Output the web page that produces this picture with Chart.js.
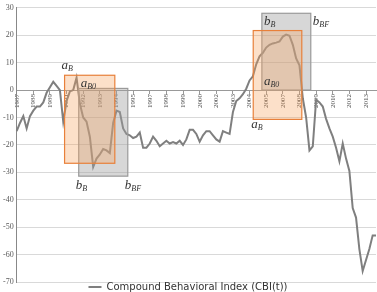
<!DOCTYPE html>
<html>
<head>
<meta charset="utf-8">
<script src="https://cdn.jsdelivr.net/npm/chart.js@4/dist/chart.umd.min.js"></script>
<style>
  body { margin: 0; background: #fff; }
  canvas { display: block; }
</style>
</head>
<body>
<canvas id="chartCBI" width="377" height="292"></canvas>
<script>
// Etiquetas del eje X (una cada 5 puntos)
const tickYears = ['1987', '1988', '1989', '1991', '1992', '1993', '1994', '1995', '1997', '1998', '1999',
    '2000', '2002', '2003', '2004', '2005', '2007', '2008', '2009', '2010', '2012', '2013'];
const TICK_EVERY = 5;

// Serie CBI(t)
const cbi = [
    -15, -12, -9.5, -14, -9.5, -7.5, -6, -6, -4.5, -1,
    1, 3, 1.5, 0, -11.5, -4, -0.5, 0, 4.5, -5,
    -10, -11.5, -17, -28, -25, -23.5, -21.5, -22, -23, -12,
    -7.5, -8, -14, -16, -16.5, -17.5, -17, -15.5, -21, -21,
    -19.5, -17, -18.5, -20.5, -19.5, -18.5, -19.5, -19, -19.5, -18.5,
    -20, -18, -14.5, -14.5, -16, -18.8, -16.5, -15, -15, -16.5,
    -18, -18.8, -15, -15.5, -16, -8, -4, -3, -1.5, 0.5,
    3.5, 5, 9.4, 12.3, 13.6, 15.5, 16.5, 17, 17.3, 17.7,
    19.5, 20.2, 19.8, 16.5, 11.5, 9, -3, -10, -22, -20.5,
    -3.5, -4.5, -6, -10.5, -14, -17, -21, -26, -19.5, -25,
    -29.5, -43, -46.5, -58, -66, -62, -58, -53, -53
];

const yTicks = { min: -70, max: 30, step: 10 };

// Recuadros (en unidades de datos: índice / valor)
const cajasGris = [
    { x0: 18.65, x1: 33.4, y0: -31.4, y1: 0.6 },
    { x0: 73.7, x1: 88.4, y0: 0, y1: 28 }
];
const cajasNaranja = [
    { x0: 14.4, x1: 29.5, y0: -26.7, y1: 5.4 },
    { x0: 71.1, x1: 85.7, y0: -10.7, y1: 21.7 }
];

const labels = cbi.map((v, i) => (i % TICK_EVERY === 0 ? (tickYears[i / TICK_EVERY] || '') : ''));

function pixBox(chart, c) {
    const xs = chart.scales.x, ys = chart.scales.y;
    return {
        l: xs.getPixelForValue(c.x0), r: xs.getPixelForValue(c.x1),
        t: ys.getPixelForValue(c.y1), b: ys.getPixelForValue(c.y0)
    };
}

function etiqueta(ctx, base, sub, x, y) {
    ctx.font = 'italic 13px "Liberation Serif"';
    ctx.fillText(base, x, y);
    const w = ctx.measureText(base).width;
    ctx.font = 'italic 8px "Liberation Serif"';
    ctx.fillText(sub, x + w, y + 2);
}

const pluginCajas = {
    id: 'cajas',
    afterDatasetsDraw(chart) {
        const ctx = chart.ctx;
        ctx.save();
        const g = cajasGris.map(c => pixBox(chart, c));
        const o = cajasNaranja.map(c => pixBox(chart, c));

        g.forEach(p => {
            ctx.fillStyle = 'rgba(160, 160, 160, 0.42)';
            ctx.fillRect(p.l, p.t, p.r - p.l, p.b - p.t);
            ctx.strokeStyle = '#9a9a9a';
            ctx.lineWidth = 1.2;
            ctx.strokeRect(p.l, p.t, p.r - p.l, p.b - p.t);
        });
        o.forEach(p => {
            ctx.fillStyle = 'rgba(247, 160, 90, 0.33)';
            ctx.fillRect(p.l, p.t, p.r - p.l, p.b - p.t);
            ctx.strokeStyle = '#e8803a';
            ctx.lineWidth = 1.2;
            ctx.strokeRect(p.l, p.t, p.r - p.l, p.b - p.t);
        });

        ctx.fillStyle = '#333';
        ctx.textBaseline = 'alphabetic';
        // Izquierda
        etiqueta(ctx, 'a', 'B', o[0].l - 3, o[0].t - 6);
        etiqueta(ctx, 'a', 'B0', g[0].l + 2, g[0].t - 1);
        etiqueta(ctx, 'b', 'B', g[0].l - 3, g[0].b + 13);
        etiqueta(ctx, 'b', 'BF', g[0].r - 3, g[0].b + 13);
        // Derecha
        etiqueta(ctx, 'b', 'B', g[1].l + 2, g[1].t + 12);
        etiqueta(ctx, 'b', 'BF', g[1].r + 2, g[1].t + 12);
        etiqueta(ctx, 'a', 'B0', g[1].l + 2, g[1].b - 5);
        etiqueta(ctx, 'a', 'B', o[1].l - 2, o[1].b + 9);
        ctx.restore();
    }
};

new Chart(document.getElementById('chartCBI'), {
    type: 'line',
    data: {
        labels: labels,
        datasets: [{
            label: 'Compound Behavioral Index (CBI(t))',
            data: cbi,
            borderColor: '#7f7f7f',
            backgroundColor: '#7f7f7f',
            borderWidth: 2,
            pointRadius: 0,
            tension: 0
        }]
    },
    options: {
        responsive: false,
        animation: false,
        devicePixelRatio: 1,
        layout: { padding: { top: 2, right: 1, left: 0, bottom: -10 } },
        plugins: {
            legend: {
                position: 'bottom',
                labels: {
                    usePointStyle: true,
                    pointStyle: 'line',
                    pointStyleWidth: 13,
                    font: { family: 'DejaVu Sans', size: 10 },
                    color: '#333',
                    padding: 0
                }
            },
            tooltip: { enabled: false }
        },
        scales: {
            x: {
                position: { y: 0 },
                offset: false,
                grid: { display: true, drawOnChartArea: false, drawTicks: true, tickLength: 3, color: '#999' },
                border: { color: '#999' },
                ticks: {
                    autoSkip: false,
                    minRotation: 90,
                    maxRotation: 90,
                    padding: 1,
                    font: { family: 'Liberation Serif', size: 7 },
                    color: '#505050',
                    callback: (v, i) => (i % TICK_EVERY === 0 ? labels[i] : null)
                }
            },
            y: {
                min: yTicks.min,
                max: yTicks.max,
                grid: { color: '#d9d9d9', drawTicks: false },
                border: { color: '#888' },
                ticks: {
                    stepSize: yTicks.step,
                    padding: 3,
                    font: { family: 'Liberation Serif', size: 8 },
                    color: '#595959'
                }
            }
        }
    },
    plugins: [pluginCajas]
});
</script>
</body>
</html>
